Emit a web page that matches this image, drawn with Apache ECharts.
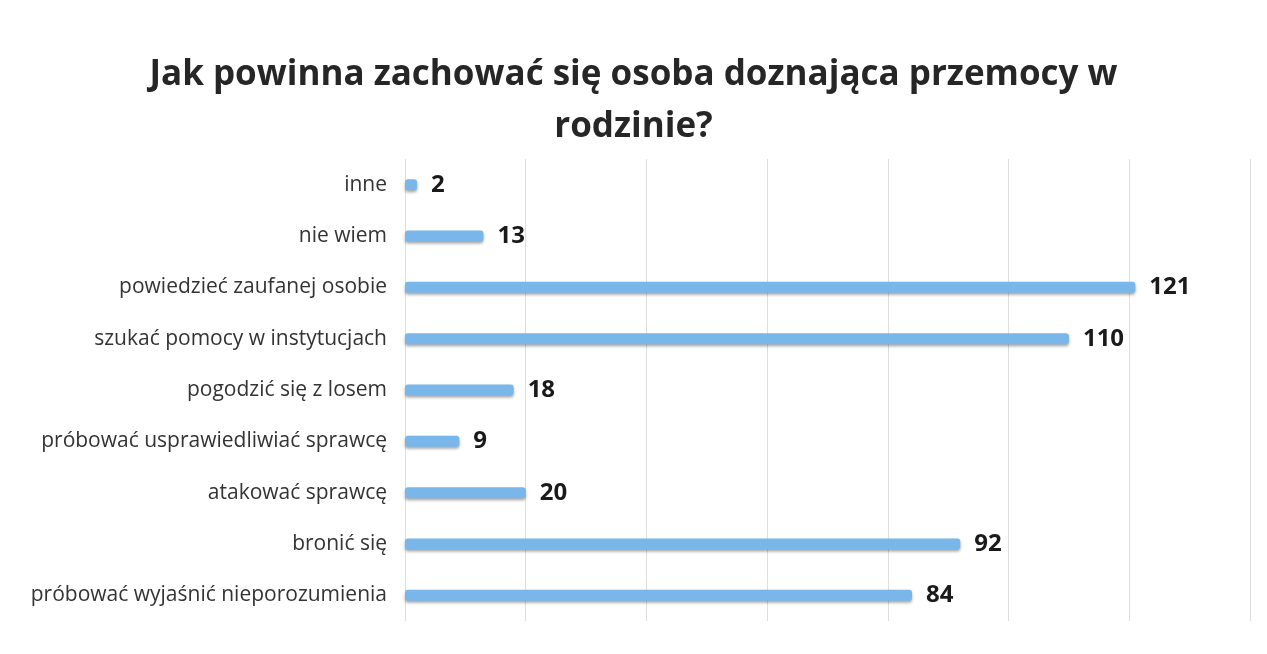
<!DOCTYPE html>
<html>
<head>
<meta charset="utf-8">
<script src="https://cdn.jsdelivr.net/npm/echarts@6/dist/echarts.min.js"></script>
<style>
  html, body { margin: 0; padding: 0; background: #fff; }
  #chart { width: 1267px; height: 654px; }
</style>
</head>
<body>
<div id="chart"></div>
<script>
  // odpowiedzi (od góry do dołu)
  var categories = ['inne', 'nie wiem', 'powiedzieć zaufanej osobie', 'szukać pomocy w instytucjach',
    'pogodzić się z losem', 'próbować usprawiedliwiać sprawcę', 'atakować sprawcę', 'bronić się',
    'próbować wyjaśnić nieporozumienia'];
  var values = [2, 13, 121, 110, 18, 9, 20, 92, 84];
  var titleText = 'Jak powinna zachować się osoba doznająca przemocy w\nrodzinie?';

  var myChart = echarts.init(document.getElementById('chart'));

  var option = {
    backgroundColor: '#fff',
    title: {
      text: titleText,
      left: 'center',
      top: 44,
      textStyle: {
        fontFamily: 'Open Sans',
        fontSize: 35,
        fontWeight: 'bold',
        color: '#262626',
        lineHeight: 52
      }
    },
    grid: {
      left: 405,
      right: 17,
      top: 159,
      bottom: 33
    },
    xAxis: {
      type: 'value',
      min: 0,
      max: 140,
      interval: 20,
      axisLabel: { show: false },
      axisLine: { show: false },
      axisTick: { show: false },
      splitLine: {
        show: true,
        lineStyle: { color: '#dedede', width: 1 }
      }
    },
    yAxis: {
      type: 'category',
      inverse: true,
      data: categories,
      axisTick: { show: false },
      axisLine: { show: false },
      axisLabel: {
        margin: 18,
        fontFamily: 'Open Sans',
        fontSize: 21,
        color: '#333'
      }
    },
    series: [{
      type: 'bar',
      data: values,
      barWidth: 11,
      itemStyle: {
        color: '#79b6e9',
        borderRadius: 3,
        shadowColor: 'rgba(0,0,0,0.35)',
        shadowBlur: 3,
        shadowOffsetY: 2
      },
      label: {
        show: true,
        position: 'right',
        distance: 14,
        fontFamily: 'Open Sans',
        fontSize: 24,
        fontWeight: 'bold',
        color: '#1a1a1a'
      }
    }]
  };

  myChart.setOption(option);
  window.addEventListener('resize', function () {
    myChart.resize();
  });
</script>
</body>
</html>
